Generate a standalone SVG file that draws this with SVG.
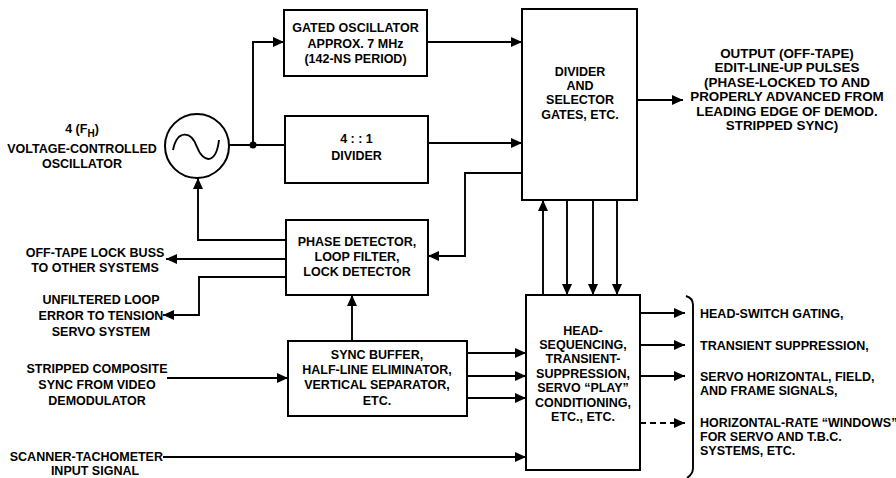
<svg xmlns="http://www.w3.org/2000/svg" width="896" height="478" viewBox="0 0 896 478">
<defs>
<marker id="ah" markerUnits="userSpaceOnUse" markerWidth="11" markerHeight="10" refX="11" refY="5" orient="auto">
<path d="M0,0 L11,5 L0,10 z" fill="#000"/>
</marker>
<style>
.box{fill:#fff;stroke:#000;stroke-width:2}
.ln{fill:none;stroke:#000;stroke-width:1.9}
.dash{stroke-dasharray:6,4}
text{font-family:"Liberation Sans",Arial,sans-serif;font-weight:bold;font-size:12.5px;fill:#000}
.c{text-anchor:middle}
.r{text-anchor:end}
.big{font-size:13.4px}
</style>
</defs>
<rect width="896" height="478" fill="#fff"/>

<g id="connectors">
<path class="ln" d="M229,145 L285,145"/>
<path class="ln" d="M253,145 L253,42 L284,42" marker-end="url(#ah)"/>
<path class="ln" d="M427,42 L522,42" marker-end="url(#ah)"/>
<path class="ln" d="M428,143 L522,143" marker-end="url(#ah)"/>
<path class="ln" d="M522,173 L465,173 L465,256 L428,256" marker-end="url(#ah)"/>
<path class="ln" d="M286,240 L198,240 L198,178" marker-end="url(#ah)"/>
<path class="ln" d="M286,259 L166,259" marker-end="url(#ah)"/>
<path class="ln" d="M286,277 L199,277 L199,315 L163,315" marker-end="url(#ah)"/>
<path class="ln" d="M352,341 L352,295" marker-end="url(#ah)"/>
<path class="ln" d="M167,378 L288,378" marker-end="url(#ah)"/>
<path class="ln" d="M163,457 L526,457" marker-end="url(#ah)"/>
<path class="ln" d="M467,353 L526,353" marker-end="url(#ah)"/>
<path class="ln" d="M467,376 L526,376" marker-end="url(#ah)"/>
<path class="ln" d="M467,398 L526,398" marker-end="url(#ah)"/>
<path class="ln" d="M543,295 L543,200" marker-end="url(#ah)"/>
<path class="ln" d="M567,200 L567,295" marker-end="url(#ah)"/>
<path class="ln" d="M593,200 L593,295" marker-end="url(#ah)"/>
<path class="ln" d="M617,200 L617,295" marker-end="url(#ah)"/>
<path class="ln" d="M637,100 L683,100" marker-end="url(#ah)"/>
<path class="ln" d="M640,313 L685,313" marker-end="url(#ah)"/>
<path class="ln" d="M640,345 L685,345" marker-end="url(#ah)"/>
<path class="ln" d="M640,376 L685,376" marker-end="url(#ah)"/>
<path class="ln dash" d="M640,423 L685,423" marker-end="url(#ah)"/>
<circle cx="253" cy="145" r="3.5" fill="#000"/>
</g>

<g id="vco">
<circle cx="197" cy="146" r="32" fill="#fff" stroke="#000" stroke-width="2"/>
<path class="ln" d="M173,150 C177,130 191,130 197,147 C203,163 216,165 219,140"/>
<text class="c" x="82" y="133">4 (F<tspan dy="4" font-size="10">H</tspan><tspan dy="-4">)</tspan></text>
<text class="c" x="82" y="153">VOLTAGE-CONTROLLED</text>
<text class="c" x="82" y="168">OSCILLATOR</text>
</g>

<g id="gated-osc">
<rect class="box" x="284" y="10" width="143" height="66"/>
<text class="c" x="355.5" y="32">GATED OSCILLATOR</text>
<text class="c" x="355.5" y="48">APPROX. 7 MHz</text>
<text class="c" x="355.5" y="63">(142-NS PERIOD)</text>
</g>

<g id="divider41">
<rect class="box" x="285" y="116" width="143" height="67"/>
<text class="c" x="356.5" y="143">4 : : 1</text>
<text class="c" x="356.5" y="160">DIVIDER</text>
</g>

<g id="divider-selector">
<rect class="box" x="522" y="9" width="115" height="191"/>
<text class="c" x="580" y="76">DIVIDER</text>
<text class="c" x="580" y="90">AND</text>
<text class="c" x="580" y="104">SELECTOR</text>
<text class="c" x="580" y="119">GATES, ETC.</text>
</g>

<g id="output-label">
<text class="c big" x="787" y="58">OUTPUT (OFF-TAPE)</text>
<text class="c big" x="787" y="72">EDIT-LINE-UP PULSES</text>
<text class="c big" x="787" y="87">(PHASE-LOCKED TO AND</text>
<text class="c big" x="787" y="101">PROPERLY ADVANCED FROM</text>
<text class="c big" x="787" y="116">LEADING EDGE OF DEMOD.</text>
<text class="c big" x="782" y="130">STRIPPED SYNC)</text>
</g>

<g id="phase-detector">
<rect class="box" x="286" y="220" width="142" height="75"/>
<text class="c" x="357" y="246">PHASE DETECTOR,</text>
<text class="c" x="357" y="261">LOOP FILTER,</text>
<text class="c" x="357" y="276">LOCK DETECTOR</text>
</g>

<g id="lock-buss-label">
<text class="c" x="95" y="257">OFF-TAPE LOCK BUSS</text>
<text class="c" x="95" y="272">TO OTHER SYSTEMS</text>
</g>

<g id="loop-error-label">
<text class="c" x="101" y="304">UNFILTERED LOOP</text>
<text class="c" x="101" y="320">ERROR TO TENSION</text>
<text class="c" x="101" y="336">SERVO SYSTEM</text>
</g>

<g id="sync-buffer">
<rect class="box" x="288" y="341" width="179" height="75"/>
<text class="c" x="377" y="359">SYNC BUFFER,</text>
<text class="c" x="377" y="374">HALF-LINE ELIMINATOR,</text>
<text class="c" x="377" y="389">VERTICAL SEPARATOR,</text>
<text class="c" x="377" y="405">ETC.</text>
</g>

<g id="sync-input-label">
<text class="c" x="97" y="373">STRIPPED COMPOSITE</text>
<text class="c" x="97" y="389">SYNC FROM VIDEO</text>
<text class="c" x="97" y="405">DEMODULATOR</text>
</g>

<g id="tach-input-label">
<text class="r" x="163" y="461">SCANNER-TACHOMETER</text>
<text class="c" x="95" y="475">INPUT SIGNAL</text>
</g>

<g id="head-sequencing">
<rect class="box" x="526" y="295" width="114" height="175"/>
<text class="c" x="583" y="335">HEAD-</text>
<text class="c" x="583" y="349">SEQUENCING,</text>
<text class="c" x="583" y="363">TRANSIENT-</text>
<text class="c" x="583" y="378">SUPPRESSION,</text>
<text class="c" x="583" y="392">SERVO “PLAY”</text>
<text class="c" x="583" y="407">CONDITIONING,</text>
<text class="c" x="583" y="421">ETC., ETC.</text>
</g>

<g id="outputs-label">
<path class="ln" d="M686,296 Q693,298 693,305 L693,468 Q693,474 687,478"/>
<text x="700" y="318">HEAD-SWITCH GATING,</text>
<text x="700" y="350">TRANSIENT SUPPRESSION,</text>
<text x="700" y="381">SERVO HORIZONTAL, FIELD,</text>
<text x="700" y="395">AND FRAME SIGNALS,</text>
<text x="700" y="427">HORIZONTAL-RATE “WINDOWS”</text>
<text x="700" y="441">FOR SERVO AND T.B.C.</text>
<text x="700" y="455">SYSTEMS, ETC.</text>
</g>
</svg>
